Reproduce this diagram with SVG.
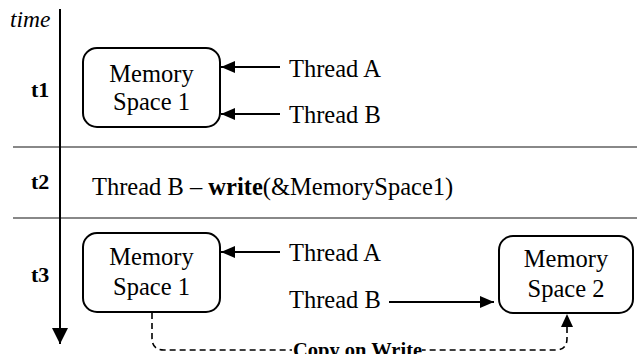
<svg xmlns="http://www.w3.org/2000/svg" width="637" height="354" viewBox="0 0 637 354" font-family="'Liberation Serif', 'Times New Roman', serif">
<style>
text{font-family:'Liberation Serif','Times New Roman',serif;fill:#000}
.t{font-size:24.5px}
.lbl{font-size:22px;font-weight:bold}
.box{fill:#fff;stroke:#000;stroke-width:2}
.sep{stroke:#888;stroke-width:2}
.arr{stroke:#000;stroke-width:2;fill:none}
.dash{stroke:#000;stroke-width:1.6;fill:none;stroke-dasharray:6 4}
</style>
<defs>
<marker id="ah" markerUnits="userSpaceOnUse" markerWidth="14" markerHeight="12" refX="14" refY="6" orient="auto">
<path d="M0,0 L14,6 L0,12 Z" fill="#000"/>
</marker>
<marker id="ahs" markerUnits="userSpaceOnUse" markerWidth="13" markerHeight="12" refX="13" refY="6" orient="auto">
<path d="M0,0 L13,6 L0,12 Z" fill="#000"/>
</marker>
<marker id="axh" markerUnits="userSpaceOnUse" markerWidth="16" markerHeight="16" refX="16" refY="8" orient="auto">
<path d="M0,0 L16,8 L0,16 Z" fill="#000"/>
</marker>
</defs>

<g id="grid">
<line class="sep" x1="13" y1="147" x2="637" y2="147"/>
<line class="sep" x1="13" y1="218" x2="637" y2="218"/>
</g>

<g id="timeline">
<text x="10" y="27" font-size="23.5" font-style="italic">time</text>
<text class="lbl" x="31" y="97">t1</text>
<text class="lbl" x="31" y="189">t2</text>
<text class="lbl" x="31" y="282">t3</text>
</g>

<g id="connectors">
<line class="arr" x1="60" y1="9" x2="60" y2="344" marker-end="url(#axh)"/>
<line class="arr" x1="280" y1="67" x2="221" y2="67" marker-end="url(#ah)"/>
<line class="arr" x1="280" y1="114" x2="221" y2="114" marker-end="url(#ah)"/>
<line class="arr" x1="280" y1="252" x2="221" y2="252" marker-end="url(#ah)"/>
<line class="arr" x1="389" y1="302" x2="494" y2="302" marker-end="url(#ah)"/>
<path class="dash" d="M152,313 L152,338 Q152,350 164,350 L556,350 Q567,350 567,338 L567,314" marker-end="url(#ahs)"/>
<rect x="292" y="340" width="130" height="14" fill="#fff"/>
<text x="293" y="357" font-size="20.5" font-weight="bold">Copy on Write</text>
</g>

<g id="mem1-t1">
<rect class="box" x="83" y="48" width="137" height="79" rx="14"/>
<text class="t" x="151.5" y="82" text-anchor="middle">Memory</text>
<text class="t" x="151.5" y="110" text-anchor="middle">Space 1</text>
</g>

<g id="threadA-t1"><text class="t" x="289" y="77">Thread A</text></g>
<g id="threadB-t1"><text class="t" x="289" y="123">Thread B</text></g>

<g id="write-t2">
<text class="t" x="92" y="195">Thread B – <tspan font-weight="bold">write</tspan>(&amp;MemorySpace1)</text>
</g>

<g id="mem1-t3">
<rect class="box" x="83" y="233" width="137" height="79" rx="14"/>
<text class="t" x="151.5" y="265" text-anchor="middle">Memory</text>
<text class="t" x="151.5" y="295" text-anchor="middle">Space 1</text>
</g>

<g id="threadA-t3"><text class="t" x="289" y="261">Thread A</text></g>
<g id="threadB-t3"><text class="t" x="289" y="308">Thread B</text></g>

<g id="mem2-t3">
<rect class="box" x="499" y="236" width="134" height="77" rx="14"/>
<text class="t" x="566" y="267" text-anchor="middle">Memory</text>
<text class="t" x="566" y="297" text-anchor="middle">Space 2</text>
</g>
</svg>
